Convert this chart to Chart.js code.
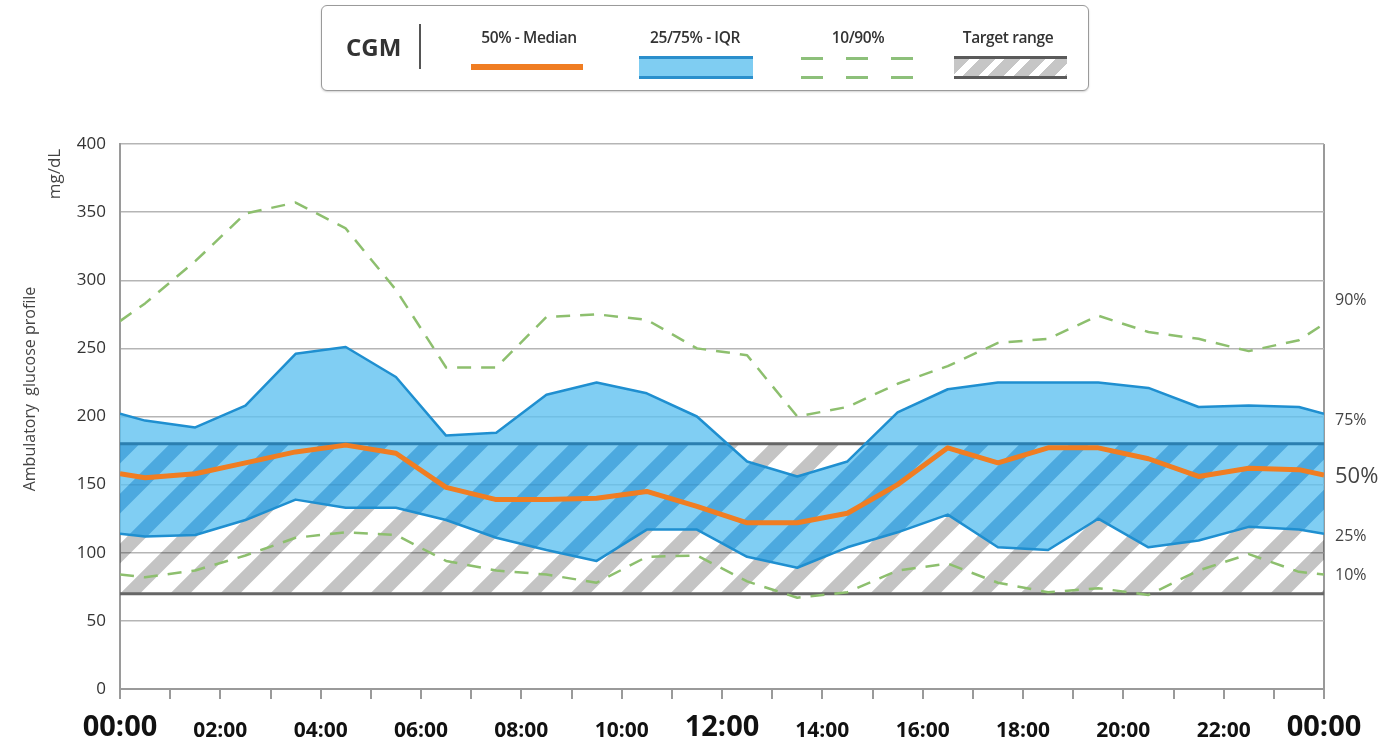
<!DOCTYPE html>
<html>
<head>
<meta charset="utf-8">
<title>Ambulatory glucose profile</title>
<script src="https://cdn.jsdelivr.net/npm/chart.js@4.4.1/dist/chart.umd.min.js"></script>
<style>
  body { margin: 0; background: #fff; font-family: "Open Sans", sans-serif; }
  #wrap { position: relative; width: 1398px; height: 746px; }
  #agp { position: absolute; left: 0; top: 0; }
  #legendBox { position: absolute; left: 321px; top: 5px; width: 766px; height: 84px;
    border: 1.5px solid #9a9a9a; border-radius: 6px; background: #fff;
    box-shadow: 0 1px 2px rgba(0,0,0,0.18); color: #333; }
  #legendBox div { position: absolute; }
  .lbl { width: 160px; text-align: center; font-size: 15.5px; font-weight: 600; line-height: 20px; top: 21px; letter-spacing: -0.4px; }
</style>
</head>
<body>
<div id="wrap">
  <canvas id="agp" width="1398" height="746"></canvas>
  <div id="legendBox">
    <div style="left:24px;top:26px;font-size:24px;font-weight:700;line-height:30px;">CGM</div>
    <div style="left:97px;top:18px;width:2px;height:45px;background:#555;"></div>

    <div class="lbl" style="left:127px;">50% - Median</div>
    <div style="left:149px;top:58px;width:112px;height:6px;background:#f07d22;"></div>

    <div class="lbl" style="left:293px;">25/75% - IQR</div>
    <div style="left:317px;top:50px;width:114px;height:17px;background:#7fcdf2;border-top:3px solid #2a8fcc;border-bottom:3px solid #2a8fcc;"></div>

    <div class="lbl" style="left:456px;">10/90%</div>
    <div style="left:479px;top:51px;width:112px;height:3px;background:repeating-linear-gradient(to right,#8dc07a 0 22px,transparent 22px 45px);"></div>
    <div style="left:479px;top:70px;width:112px;height:3px;background:repeating-linear-gradient(to right,#8dc07a 0 22px,transparent 22px 45px);"></div>

    <div class="lbl" style="left:606px;">Target range</div>
    <div style="left:632px;top:50px;width:113px;height:17px;background:repeating-linear-gradient(135deg,#c6c6c6 0 11px,#fff 11px 18px);border-top:3px solid #5a5a5a;border-bottom:3px solid #5a5a5a;"></div>
  </div>
</div>
<script>
var hours = [0, 0.5, 1.5, 2.5, 3.5, 4.5, 5.5, 6.5, 7.5, 8.5, 9.5, 10.5, 11.5,
             12.5, 13.5, 14.5, 15.5, 16.5, 17.5, 18.5, 19.5, 20.5, 21.5, 22.5, 23.5, 24];
var p90 = [270, 283, 314, 349, 357, 338, 293, 236, 236, 273, 275, 271, 250,
           245, 200, 207, 224, 237, 254, 257, 274, 262, 257, 248, 256, 268];
var p75 = [202, 197, 192, 208, 246, 251, 229, 186, 188, 216, 225, 217, 200,
           167, 156, 167, 203, 220, 225, 225, 225, 221, 207, 208, 207, 202];
var p50 = [158, 155, 158, 166, 174, 179, 173, 148, 139, 139, 140, 145, 134,
           122, 122, 129, 150, 177, 166, 177, 177, 169, 156, 162, 161, 157];
var p25 = [114, 112, 113, 124, 139, 133, 133, 124, 111, 102, 94, 117, 117,
           97, 89, 104, 115, 128, 104, 102, 125, 104, 109, 119, 117, 114];
var p10 = [84, 82, 87, 98, 111, 115, 113, 94, 87, 84, 78, 97, 98,
           79, 67, 71, 87, 92, 78, 71, 74, 69, 87, 99, 86, 84];
var targetLow = 70;
var targetHigh = 180;
var yTicks = [0, 50, 100, 150, 200, 250, 300, 350, 400];
var sideLabels = ["90%", "75%", "50%", "25%", "10%"];
/*---- end of data ----*/

function pts(arr) {
	return hours.map(function(h, i) { return { x: h, y: arr[i] }; });
}

function hourLabel(v) {
	var h = v % 24 === 0 && v > 0 ? 0 : v;
	return (h < 10 ? "0" : "") + h + ":00";
}

/*---- bandPlugin : draws the hatched target range, tinted blue where it meets the IQR ----*/
var bandPlugin = {
	id: "band",
	beforeDatasetsDraw: function(chart) {
		var ctx = chart.ctx, a = chart.chartArea, ys = chart.scales.y;
		var yTop = ys.getPixelForValue(targetHigh), yBot = ys.getPixelForValue(targetLow);
		var up = chart.getDatasetMeta(0).data, lo = chart.getDatasetMeta(1).data;

		function iqrPath() {
			ctx.moveTo(up[0].x, up[0].y);
			for (var i = 1; i < up.length; i++) ctx.lineTo(up[i].x, up[i].y);
			for (var j = lo.length - 1; j >= 0; j--) ctx.lineTo(lo[j].x, lo[j].y);
			ctx.closePath();
		}
		function stripes(color) {
			var h = yBot - yTop + 20;
			ctx.save();
			ctx.beginPath();
			ctx.rect(a.left, yTop, a.right - a.left, yBot - yTop);
			ctx.clip();
			ctx.beginPath();
			for (var xb = a.left + 10 - 500; xb < a.right + 60; xb += 50) {
				ctx.moveTo(xb - 20, yBot + 20);
				ctx.lineTo(xb + h, yBot - h);
			}
			ctx.lineWidth = 14;
			ctx.strokeStyle = color;
			ctx.stroke();
			ctx.restore();
		}
		function edges(color) {
			ctx.beginPath();
			ctx.moveTo(a.left, yTop); ctx.lineTo(a.right, yTop);
			ctx.moveTo(a.left, yBot); ctx.lineTo(a.right, yBot);
			ctx.lineWidth = 3;
			ctx.strokeStyle = color;
			ctx.stroke();
		}

		ctx.save();
		ctx.beginPath();
		ctx.rect(a.left, yTop - 3, a.right - a.left, yBot - yTop + 6);
		ctx.clip();

		// part of the band inside the IQR
		ctx.save();
		ctx.beginPath();
		iqrPath();
		ctx.clip();
		ctx.globalCompositeOperation = "multiply";
		stripes("#97d1ea");
		ctx.globalCompositeOperation = "source-over";
		edges("#2b7fb0");
		ctx.restore();

		// part of the band outside the IQR
		ctx.save();
		ctx.beginPath();
		ctx.rect(a.left - 10, yTop - 10, a.right - a.left + 20, yBot - yTop + 20);
		iqrPath();
		ctx.clip("evenodd");
		ctx.globalCompositeOperation = "multiply";
		stripes("#c4c4c4");
		ctx.globalCompositeOperation = "source-over";
		edges("#666666");
		ctx.restore();

		ctx.restore();
	}
};
/*---- end of bandPlugin ----*/

/*---- textPlugin : axis titles and percentile names on the right ----*/
var textPlugin = {
	id: "texts",
	afterDraw: function(chart) {
		var ctx = chart.ctx, a = chart.chartArea, ys = chart.scales.y;
		var last = p90.length - 1;
		var at = [p90[last] + 17, p75[last] - 5, p50[last] - 1, p25[last] - 2, p10[last] - 1];
		ctx.save();
		ctx.fillStyle = "#444";
		ctx.textBaseline = "middle";
		ctx.textAlign = "left";
		for (var i = 0; i < sideLabels.length; i++) {
			ctx.font = (i === 2 ? "22px" : "16px") + " 'Open Sans'";
			ctx.fillText(sideLabels[i], a.right + 11, ys.getPixelForValue(at[i]));
		}
		ctx.textAlign = "center";
		ctx.translate(55, 174);
		ctx.rotate(-Math.PI / 2);
		ctx.font = "17px 'Open Sans'";
		ctx.fillText("mg/dL", 0, 0);
		ctx.restore();

		ctx.save();
		ctx.fillStyle = "#444";
		ctx.textAlign = "center";
		ctx.textBaseline = "middle";
		ctx.translate(30, 389);
		ctx.rotate(-Math.PI / 2);
		ctx.font = "16px 'Open Sans'";
		ctx.fillText("Ambulatory  glucose profile", 0, 0);
		ctx.restore();
	}
};
/*---- end of textPlugin ----*/

/*---- createprofile() : builds the chart ----*/
function createprofile() {
	var ctx = document.getElementById("agp").getContext("2d");
	new Chart(ctx, {
		type: "line",
		data: {
			datasets: [{
				label: "75%",
				data: pts(p75),
				borderColor: "#1f8fd0",
				borderWidth: 2.5,
				backgroundColor: "rgba(96,194,240,0.8)",
				fill: "+1",
				order: 2
			}, {
				label: "25%",
				data: pts(p25),
				borderColor: "#1f8fd0",
				borderWidth: 2.5,
				fill: false,
				order: 2
			}, {
				label: "90%",
				data: pts(p90),
				borderColor: "#8dbf6e",
				borderWidth: 2.5,
				borderDash: [14, 10],
				fill: false,
				order: 1
			}, {
				label: "10%",
				data: pts(p10),
				borderColor: "#8dbf6e",
				borderWidth: 2.5,
				borderDash: [14, 10],
				fill: false,
				order: 1
			}, {
				label: "50% - Median",
				data: pts(p50),
				borderColor: "#f07d22",
				borderWidth: 5,
				fill: false,
				order: 0
			}]
		},
		options: {
			responsive: false,
			animation: false,
			layout: { padding: { top: 144, right: 74, left: 0, bottom: 0 } },
			elements: { point: { radius: 0 }, line: { tension: 0, borderJoinStyle: "round" } },
			plugins: {
				legend: { display: false },
				tooltip: { enabled: false },
				filler: { drawTime: "beforeDatasetsDraw" }
			},
			scales: {
				x: {
					type: "linear",
					min: 0,
					max: 24,
					afterFit: function(s) { s.height = 57; },
					afterBuildTicks: function(s) {
						s.ticks = hours.filter(function(h) { return h % 1 === 0.5; })
							.map(function(h) { return h - 0.5; }).concat([24])
							.map(function(v) { return { value: v }; });
					},
					ticks: {
						autoSkip: false,
						maxRotation: 0,
						padding: 20,
						color: "#111",
						callback: function(v) { return v % 2 === 0 ? hourLabel(v) : ""; },
						font: function(c) {
							var v = c.tick ? c.tick.value : 1;
							if (v % 12 === 0) return { family: "'Open Sans'", size: 29, weight: "bold", lineHeight: "18px" };
							return { family: "'Open Sans'", size: 21, weight: "bold", lineHeight: "24px" };
						}
					},
					grid: {
						drawOnChartArea: true,
						tickLength: 10,
						lineWidth: 2,
						tickColor: "#9a9a9a",
						color: function(c) { return c.tick && c.tick.value === 24 ? "#9a9a9a" : "rgba(0,0,0,0)"; }
					},
					border: { display: true, color: "#9a9a9a", width: 2 }
				},
				y: {
					min: 0,
					max: 400,
					afterFit: function(s) { s.width = 120; },
					afterBuildTicks: function(s) {
						s.ticks = yTicks.map(function(v) { return { value: v }; });
					},
					ticks: {
						padding: 14,
						color: "#333",
						font: { family: "'Open Sans'", size: 17 }
					},
					grid: { color: "#b5b5b5", lineWidth: 1.5, drawTicks: false },
					border: { display: true, color: "#9a9a9a", width: 2 }
				}
			}
		},
		plugins: [bandPlugin, textPlugin]
	});
}
/*---- completion of createprofile() ----*/

createprofile();
</script>
</body>
</html>
